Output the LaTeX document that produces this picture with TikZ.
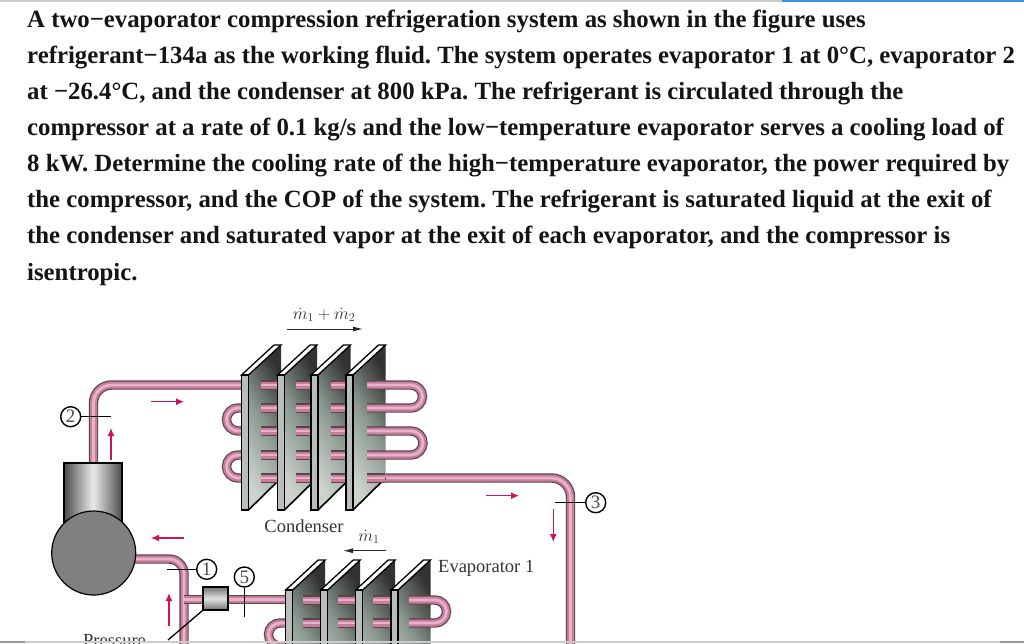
\documentclass[tikz,border=0pt]{standalone}
\usepackage{fontspec}
\setmainfont{Liberation Serif}
\usetikzlibrary{arrows.meta}
\frenchspacing
\definecolor{flow}{RGB}{205,20,95}
\definecolor{tubeedge}{RGB}{85,70,78}
\definecolor{tubemid}{RGB}{200,125,155}
\definecolor{tubelight}{RGB}{232,178,202}
\definecolor{plateL}{RGB}{205,210,205}
\definecolor{plateM}{RGB}{140,155,146}
\definecolor{plateR}{RGB}{50,50,50}
\definecolor{stripgray}{RGB}{185,190,188}
\definecolor{topblue}{RGB}{50,150,230}
\tikzset{
  para/.style={anchor=base west,inner sep=0pt,font=\fontsize{24.78}{26}\selectfont\bfseries,text=black!92},
  pipeA/.style={draw=tubeedge,line width=9.4pt},
  pipeB/.style={draw=tubemid,line width=7pt},
  pipeC/.style={draw=tubelight,line width=2.8pt},
  stateno/.style={circle,draw=black,line width=1.4pt,fill=white,minimum size=20pt,inner sep=0pt,font=\fontsize{19}{19}\selectfont,text=black!70},
  leader/.style={draw=black,line width=1pt},
  flowarrow/.style={draw=flow,line width=1.2pt,-{Latex[length=8pt,width=7pt]}},
  massarrow/.style={draw=black!85,line width=1pt,-{Latex[length=10pt,width=5pt]}},
  figlabel/.style={inner sep=0pt,font=\fontsize{18.5}{19}\selectfont,text=black!80},
  masslabel/.style={inner sep=0pt,font=\fontsize{18}{19}\selectfont,text=black!80},
  platefront/.style={draw=black,line width=1.3pt,fill=stripgray},
  platetop/.style={draw=black,line width=1.3pt,fill=white},
}
\newcommand{\pipe}[1]{\draw[pipeA] #1; \draw[pipeB] #1; \draw[pipeC] #1;}
% plate: #1 = front x, #2 = top y, #3 = bottom y
\newcommand{\plate}[3]{%
  \shade[left color=plateL,right color=plateR,middle color=plateM,shading angle=120]
    (#1+7,#2) -- (#1+39.5,#2-30) -- (#1+39.5,#3-32) -- (#1+7,#3) -- cycle;
  \draw[black,line width=1.6pt] (#1+7,#3) -- (#1+39.5,#3-32);
  \draw[platetop] (#1,#2) -- (#1+7,#2) -- (#1+39.5,#2-30) -- (#1+32.5,#2-30) -- cycle;
  \draw[platefront] (#1,#2) rectangle (#1+7,#3);
}
\begin{document}
\begin{tikzpicture}[x=1pt,y=-1pt]
\useasboundingbox (0,0) rectangle (1024,643);
\fill[white] (0,0) rectangle (1024,643);
% top rule
\fill[black!20] (0,0) rectangle (782,1.6);
\fill[topblue] (782,0) rectangle (1024,1.6);
% text
\node[para] (l1) at (27,27.7) {A two−evaporator compression refrigeration system as shown in the figure uses};
\node[para] (l2) at (27,63.7) {refrigerant−134a as the working fluid. The system operates evaporator 1 at 0°C, evaporator 2};
\node[para] (l3) at (27,99.7) {at −26.4°C, and the condenser at 800 kPa. The refrigerant is circulated through the};
\node[para] (l4) at (27,135.7) {compressor at a rate of 0.1 kg/s and the low−temperature evaporator serves a cooling load of};
\node[para] (l5) at (27,171.7) {8 kW. Determine the cooling rate of the high−temperature evaporator, the power required by};
\node[para] (l6) at (27,207.7) {the compressor, and the COP of the system. The refrigerant is saturated liquid at the exit of};
\node[para] (l7) at (27,243.7) {the condenser and saturated vapor at the exit of each evaporator, and the compressor is};
\node[para] (l8) at (27,280.7) {isentropic.};
% long pipes
\pipe{[rounded corners=18pt] (93.5,470) -- (93.5,385) -- (250,385)}
\pipe{[rounded corners=15pt] (130,559) -- (184,559) -- (184,650)}
\pipe{(184,599.5) -- (290,599.5)}
\pipe{[rounded corners=19pt] (370,478) -- (570.5,478) -- (570.5,650)}
% condenser left bends
\pipe{(245,408) -- (238,408) arc[start angle=90,end angle=270,radius=11.5pt] -- (245,431)}
\pipe{(245,455) -- (238,455) arc[start angle=90,end angle=270,radius=11.5pt] -- (245,478)}
% condenser
\plate{241.5}{375}{510}
\foreach \r in {385,408,431,455,478} {\pipe{(261,\r) -- (280,\r)}}
\plate{277.5}{375}{510}
\foreach \r in {385,408,431,455,478} {\pipe{(296,\r) -- (315,\r)}}
\plate{311}{375}{510}
\foreach \r in {385,408,431,455,478} {\pipe{(331,\r) -- (350,\r)}}
\plate{346}{375}{510}
\pipe{(367,385) -- (411,385) arc[start angle=90,end angle=-90,radius=11.5pt] -- (367,408)}
\pipe{(367,431) -- (411,431) arc[start angle=90,end angle=-90,radius=12pt] -- (367,455)}
\pipe{(367,478) -- (385,478)}
% evaporator left bend
\pipe{(292,623) -- (280,623) arc[start angle=90,end angle=270,radius=11.5pt] -- (292,646)}
% evaporator
\plate{285.7}{590}{725}
\foreach \r in {600,623} {\pipe{(303,\r) -- (324,\r)}}
\plate{320.7}{590}{725}
\foreach \r in {600,623} {\pipe{(338,\r) -- (359,\r)}}
\plate{355.7}{590}{725}
\foreach \r in {600,623} {\pipe{(373,\r) -- (394,\r)}}
\plate{391}{590}{725}
\pipe{(409,600) -- (435,600) arc[start angle=90,end angle=-90,radius=11.5pt] -- (409,623)}
% compressor
\shade[left color=black!70,right color=black!70,middle color=black!8] (64,463) rectangle (122,530);
\draw[black,line width=1.1pt] (64,530) -- (64,463) -- (122,463) -- (122,530);
\node[circle,draw=black,line width=1.2pt,fill=black!50,minimum size=84pt,inner sep=0pt] (comp) at (93.7,553) {};
% valve
\node[draw=black,line width=1.3pt,top color=black!55,bottom color=black!55,middle color=black!12,minimum width=25pt,minimum height=23pt,inner sep=0pt] (valve) at (215.5,598.5) {};
% state labels
\node[stateno] (s2) at (70.7,416.7) {2};
\coordinate (s2e) at (111,416.7);
\draw[leader] (s2) -- (s2e);
\node[stateno] (s1) at (206.7,569.3) {1};
\coordinate (s1e) at (167,569.3);
\draw[leader] (s1) -- (s1e);
\node[stateno] (s5) at (244.3,577) {5};
\coordinate (s5e) at (244.3,616.7);
\draw[leader] (s5) -- (s5e);
\node[stateno] (s3) at (595.7,502.7) {3};
\coordinate (s3e) at (555,502.7);
\draw[leader] (s3) -- (s3e);
% flow arrows
\coordinate (f1a) at (151,401.7); \coordinate (f1b) at (184,401.7);
\coordinate (f2a) at (111,460);   \coordinate (f2b) at (111,428);
\coordinate (f3a) at (184,538);   \coordinate (f3b) at (151,538);
\coordinate (f4a) at (169,626);   \coordinate (f4b) at (169,593);
\coordinate (f5a) at (485.7,495.7); \coordinate (f5b) at (519,495.7);
\coordinate (f6a) at (553.3,509); \coordinate (f6b) at (553.3,542);
\draw[flowarrow] (f1a) -- (f1b);
\draw[flowarrow] (f2a) -- (f2b);
\draw[flowarrow] (f3a) -- (f3b);
\draw[flowarrow] (f4a) -- (f4b);
\draw[flowarrow] (f5a) -- (f5b);
\draw[flowarrow] (f6a) -- (f6b);
% mass flow labels
\node[masslabel] (m12) at (324,315) {$\dot m_1 + \dot m_2$};
\coordinate (m12a) at (287,329); \coordinate (m12b) at (363,329);
\draw[massarrow] (m12a) -- (m12b);
\node[masslabel] (m1) at (369,537) {$\dot m_1$};
\coordinate (m1a) at (386,550.7); \coordinate (m1b) at (343,550.7);
\draw[massarrow] (m1a) -- (m1b);
\node[figlabel] (cond) at (304,526) {Condenser};
\node[figlabel,anchor=west] (evap) at (438,568) {Evaporator 1};
% pressure label (cropped by the page edge)
\node[figlabel,anchor=base west] (pr) at (83,646) {Pressure};
\coordinate (prl) at (168,640);
\draw[black,line width=1.3pt] (valve.south west) -- (prl);
% bottom bar
\fill[black!20] (0,641) rectangle (1024,643);
\fill[black!40] (0,641) rectangle (25,643);
\fill[black!40] (1000,641) rectangle (1024,643);
\end{tikzpicture}
\end{document}
